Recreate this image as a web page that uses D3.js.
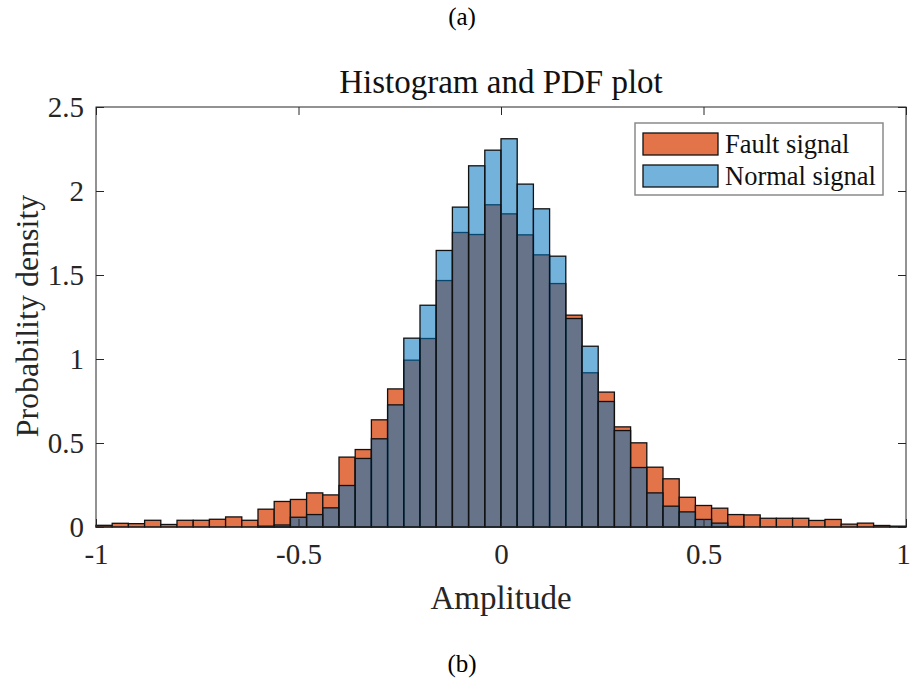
<!DOCTYPE html>
<html>
<head>
<meta charset="utf-8">
<script src="https://cdn.jsdelivr.net/npm/d3@7"></script>
<style>
  html, body { margin: 0; padding: 0; background: #fff; }
  svg { display: block; font-family: "Liberation Serif", "DejaVu Serif", serif; }
</style>
</head>
<body>
<svg id="chart" width="910" height="681"></svg>
<script>
// Histogram bin layout: 50 bins of width 0.04 from -1 to 1
const binStart = -1;
const binWidth = 0.04;

// Probability density per bin, fault signal
const faultDensity = [
  0.010, 0.022, 0.020, 0.040, 0.015, 0.040, 0.040, 0.046, 0.060, 0.040,
  0.106, 0.152, 0.164, 0.203, 0.191, 0.416, 0.461, 0.638, 0.822, 0.993,
  1.122, 1.467, 1.753, 1.741, 1.918, 1.864, 1.739, 1.620, 1.449, 1.261,
  0.918, 0.803, 0.596, 0.501, 0.356, 0.287, 0.177, 0.128, 0.112, 0.074,
  0.072, 0.052, 0.052, 0.052, 0.039, 0.045, 0.017, 0.023, 0.009, 0.005
];

// Probability density per bin, normal signal
const normalDensity = [
  0.000, 0.000, 0.000, 0.000, 0.000, 0.000, 0.000, 0.000, 0.000, 0.000,
  0.005, 0.012, 0.058, 0.074, 0.114, 0.247, 0.408, 0.525, 0.727, 1.124,
  1.320, 1.646, 1.904, 2.150, 2.243, 2.311, 2.041, 1.894, 1.612, 1.241,
  1.076, 0.747, 0.574, 0.354, 0.203, 0.124, 0.090, 0.045, 0.023, 0.003,
  0.000, 0.000, 0.000, 0.000, 0.000, 0.000, 0.000, 0.000, 0.000, 0.000
];

const xTicks = [-1, -0.5, 0, 0.5, 1];
const xTickLabels = ["-1", "-0.5", "0", "0.5", "1"];
const yTicks = [0, 0.5, 1, 1.5, 2, 2.5];
const yTickLabels = ["0", "0.5", "1", "1.5", "2", "2.5"];

const seriesNames = ["Fault signal", "Normal signal"];
const titleText = "Histogram and PDF plot";
const xLabelText = "Amplitude";
const yLabelText = "Probability density";

const svg = d3.select("#chart");
const plot = { left: 96, right: 906, top: 107, bottom: 527 };

const x = d3.scaleLinear().domain([-1, 1]).range([plot.left, plot.right]);
const y = d3.scaleLinear().domain([0, 2.5]).range([plot.bottom, plot.top]);

const faultFill = "#E37349";
const normalFill = "#0072BD";
const normalOpacity = 0.55;
const axisColor = "#262626";

function toBins(values) {
  return values.map((v, i) => ({ x0: binStart + i * binWidth, x1: binStart + (i + 1) * binWidth, v }));
}

// Fault histogram (drawn first)
svg.append("g").selectAll("rect")
  .data(toBins(faultDensity).filter(d => d.v > 0))
  .join("rect")
  .attr("x", d => x(d.x0))
  .attr("width", d => x(d.x1) - x(d.x0))
  .attr("y", d => y(d.v))
  .attr("height", d => y(0) - y(d.v))
  .attr("fill", faultFill)
  .attr("stroke", "#111")
  .attr("stroke-width", 1.3);

// Normal histogram, translucent on top
svg.append("g").selectAll("rect")
  .data(toBins(normalDensity).filter(d => d.v > 0))
  .join("rect")
  .attr("x", d => x(d.x0))
  .attr("width", d => x(d.x1) - x(d.x0))
  .attr("y", d => y(d.v))
  .attr("height", d => y(0) - y(d.v))
  .attr("fill", normalFill)
  .attr("fill-opacity", normalOpacity)
  .attr("stroke", "#111")
  .attr("stroke-width", 1.3);

// Axes box
svg.append("rect")
  .attr("x", plot.left).attr("y", plot.top)
  .attr("width", plot.right - plot.left).attr("height", plot.bottom - plot.top)
  .attr("fill", "none").attr("stroke", axisColor).attr("stroke-width", 1);

// Axes with inward ticks
const fmtX = d => xTickLabels[xTicks.indexOf(d)];
const fmtY = d => yTickLabels[yTicks.indexOf(d)];

const xAxis = svg.append("g").attr("transform", `translate(0,${plot.bottom})`)
  .call(d3.axisBottom(x).tickValues(xTicks).tickFormat(fmtX).tickSizeInner(-8).tickSizeOuter(0).tickPadding(16));
const xAxisTop = svg.append("g").attr("transform", `translate(0,${plot.top})`)
  .call(d3.axisTop(x).tickValues(xTicks).tickFormat("").tickSizeInner(-8).tickSizeOuter(0));
const yAxis = svg.append("g").attr("transform", `translate(${plot.left},0)`)
  .call(d3.axisLeft(y).tickValues(yTicks).tickFormat(fmtY).tickSizeInner(-8).tickSizeOuter(0).tickPadding(12));
const yAxisRight = svg.append("g").attr("transform", `translate(${plot.right},0)`)
  .call(d3.axisRight(y).tickValues(yTicks).tickFormat("").tickSizeInner(-8).tickSizeOuter(0));

[xAxis, xAxisTop, yAxis, yAxisRight].forEach(g => {
  g.select(".domain").remove();
  g.selectAll(".tick line").attr("stroke", axisColor);
  g.selectAll("text")
    .attr("font-family", "Liberation Serif, serif")
    .attr("font-size", 29)
    .attr("fill", axisColor);
});
// keep the last x label inside the canvas edge
xAxis.selectAll(".tick text").filter(d => d === 1).attr("dx", -3);

// Title and axis labels
const midX = (plot.left + plot.right) / 2;
svg.append("text").attr("x", midX).attr("y", 93)
  .attr("text-anchor", "middle").attr("font-size", 33).attr("fill", "#111").text(titleText);
svg.append("text").attr("x", midX).attr("y", 609)
  .attr("text-anchor", "middle").attr("font-size", 33).attr("fill", "#262626").text(xLabelText);
svg.append("text").attr("transform", `translate(38,${(plot.top + plot.bottom) / 2 - 1}) rotate(-90)`)
  .attr("text-anchor", "middle").attr("font-size", 32).attr("fill", "#262626").text(yLabelText);

// Panel captions
svg.append("text").attr("x", 462).attr("y", 25)
  .attr("text-anchor", "middle").attr("font-size", 25).attr("fill", "#000").text("(a)");
svg.append("text").attr("x", 462).attr("y", 672)
  .attr("text-anchor", "middle").attr("font-size", 25).attr("fill", "#000").text("(b)");

// Legend
const legend = svg.append("g");
legend.append("rect").attr("x", 635).attr("y", 123).attr("width", 248).attr("height", 72)
  .attr("fill", "#fff").attr("stroke", "#8a8a8a").attr("stroke-width", 1.5);
const swatches = [
  { name: seriesNames[0], fill: faultFill, op: 1 },
  { name: seriesNames[1], fill: normalFill, op: normalOpacity }
];
swatches.forEach((s, i) => {
  const yy = 133 + i * 32;
  legend.append("rect").attr("x", 643).attr("y", yy).attr("width", 75).attr("height", 22)
    .attr("fill", s.fill).attr("fill-opacity", s.op).attr("stroke", "#111").attr("stroke-width", 1.3);
  legend.append("text").attr("x", 725).attr("y", yy + 20)
    .attr("font-size", 26.5).attr("fill", "#111").text(s.name);
});
</script>
</body>
</html>
